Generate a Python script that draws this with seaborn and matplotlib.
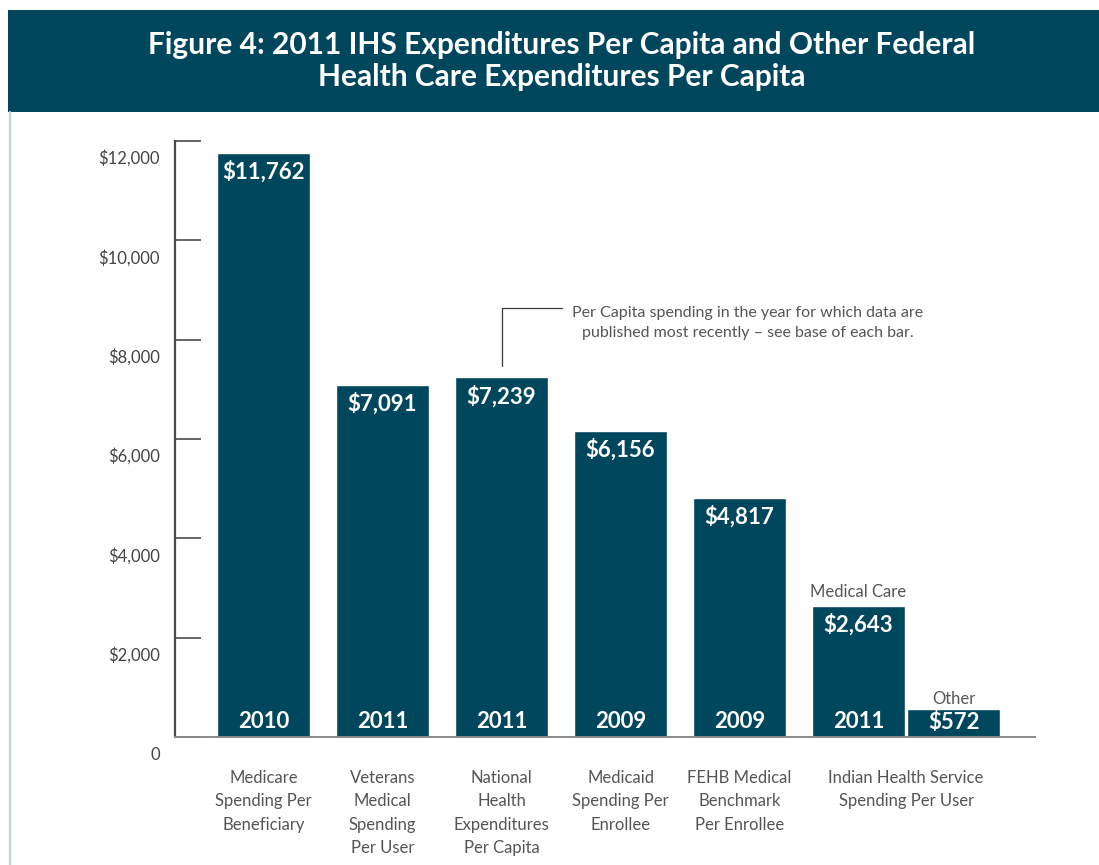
import numpy as np
import pandas as pd
import seaborn as sns
import matplotlib.pyplot as plt
from matplotlib.transforms import ScaledTranslation
from matplotlib.lines import Line2D

# data
categories = ["Medicare\nSpending Per\nBeneficiary",
              "Veterans\nMedical\nSpending\nPer User",
              "National\nHealth\nExpenditures\nPer Capita",
              "Medicaid\nSpending Per\nEnrollee",
              "FEHB Medical\nBenchmark\nPer Enrollee",
              "Indian Health Service\nSpending Per User"]
spending = [11762, 7091, 7239, 6156, 4817, 2643, 572]
years = ["2010", "2011", "2011", "2009", "2009", "2011", ""]
ihs_parts = ["Medical Care", "Other"]
yticks = [0, 2000, 4000, 6000, 8000, 10000, 12000]
title = "Figure 4: 2011 IHS Expenditures Per Capita and Other Federal\nHealth Care Expenditures Per Capita"
note = "Per Capita spending in the year for which data are\npublished most recently \u2013 see base of each bar."

teal = "#00475e"
grey = "#4a4a4a"
txt = "#555555"

sns.set_style("white")
plt.rcParams['font.family'] = ['Lato', 'DejaVu Sans']

# layout: six groups, the IHS group holds two adjacent bars
bar_x = [0, 1, 2, 3, 4, 5, 5.8]
label_x = [0, 1, 2, 3, 4, 5.4]

df = pd.DataFrame({"x": bar_x, "value": spending})

fig = plt.figure(figsize=(10.99, 8.65), dpi=100)
fig.patch.set_facecolor("white")
ax = fig.add_axes([175 / 1099, 1 - 737 / 865, 860 / 1099, 596 / 865])

sns.barplot(data=df, x="x", y="value", native_scale=True, width=0.975,
            color=teal, saturation=1, ax=ax, errorbar=None)

ax.set_xlim(-0.744, 6.483)
ax.set_ylim(0, 12000)
ax.set_xlabel("")
ax.set_ylabel("")

for side in ["top", "right"]:
    ax.spines[side].set_visible(False)
ax.spines["left"].set_color(grey)
ax.spines["left"].set_linewidth(1.6)
ax.spines["bottom"].set_color("#8a8a8a")
ax.spines["bottom"].set_linewidth(1.4)

ax.set_yticks(yticks)
ax.set_yticklabels(["0" if v == 0 else f"${v:,}" for v in yticks])
ax.tick_params(axis="y", left=True, direction="in", length=19, width=1.2,
               color=grey, pad=11, labelsize=12, labelcolor="#444444")
shift = ScaledTranslation(0, -16 / 100, fig.dpi_scale_trans)
for lab in ax.get_yticklabels():
    lab.set_transform(lab.get_transform() + shift)

ax.set_xticks(label_x)
ax.set_xticklabels(categories, fontsize=12, color=txt,
                   linespacing=1.55, va="top")
ax.tick_params(axis="x", length=0, pad=24)

# values at top of bars, years at base
for x, v, yr in zip(bar_x, spending, years):
    lab = f"${v:,}"
    if yr:
        ax.annotate(lab, (x, v), xytext=(0, -13.5), textcoords="offset points",
                    ha="center", va="center", color="white", fontsize=16,
                    fontweight="bold")
        ax.annotate(yr, (x, 0), xytext=(0, 11.5), textcoords="offset points",
                    ha="center", va="center", color="white", fontsize=16,
                    fontweight="bold")
    else:
        ax.annotate(lab, (x, 0), xytext=(0, 10.5), textcoords="offset points",
                    ha="center", va="center", color="white", fontsize=16,
                    fontweight="bold")

# labels over the two IHS bars
for x, v, part, dy in zip(bar_x[5:], spending[5:], ihs_parts, [10, 7]):
    ax.annotate(part, (x, v), xytext=(0, dy), textcoords="offset points",
                ha="center", va="center", color=txt, fontsize=12)

# bracket note above the National Health bar
nx, nv = bar_x[2], spending[2]
ax.plot([nx, nx, nx + 0.51], [nv + 240, nv + 1400, nv + 1400],
        color="#3a3a3a", lw=0.9, clip_on=False)
ax.text(nx + 0.593, nv + 1100, note, ha="left", va="center", ma="center",
        fontsize=11.5, color=txt, linespacing=1.5)

# title banner
banner = fig.add_axes([8 / 1099, 1 - 112 / 865, 1091 / 1099, 102 / 865])
banner.set_facecolor(teal)
banner.set_xticks([])
banner.set_yticks([])
for s in banner.spines.values():
    s.set_visible(False)
banner.text(554 / 1091, 0.5, title, ha="center", va="center", color="white",
            fontsize=21.5, fontweight="bold", linespacing=1.2,
            transform=banner.transAxes)

# light frame line on the left
fig.add_artist(Line2D([9.5 / 1099, 9.5 / 1099], [0, 1 - 112 / 865],
                      transform=fig.transFigure, color="#c3d2d9", lw=1.6))

fig.savefig("out.png", dpi=100, facecolor="white")
